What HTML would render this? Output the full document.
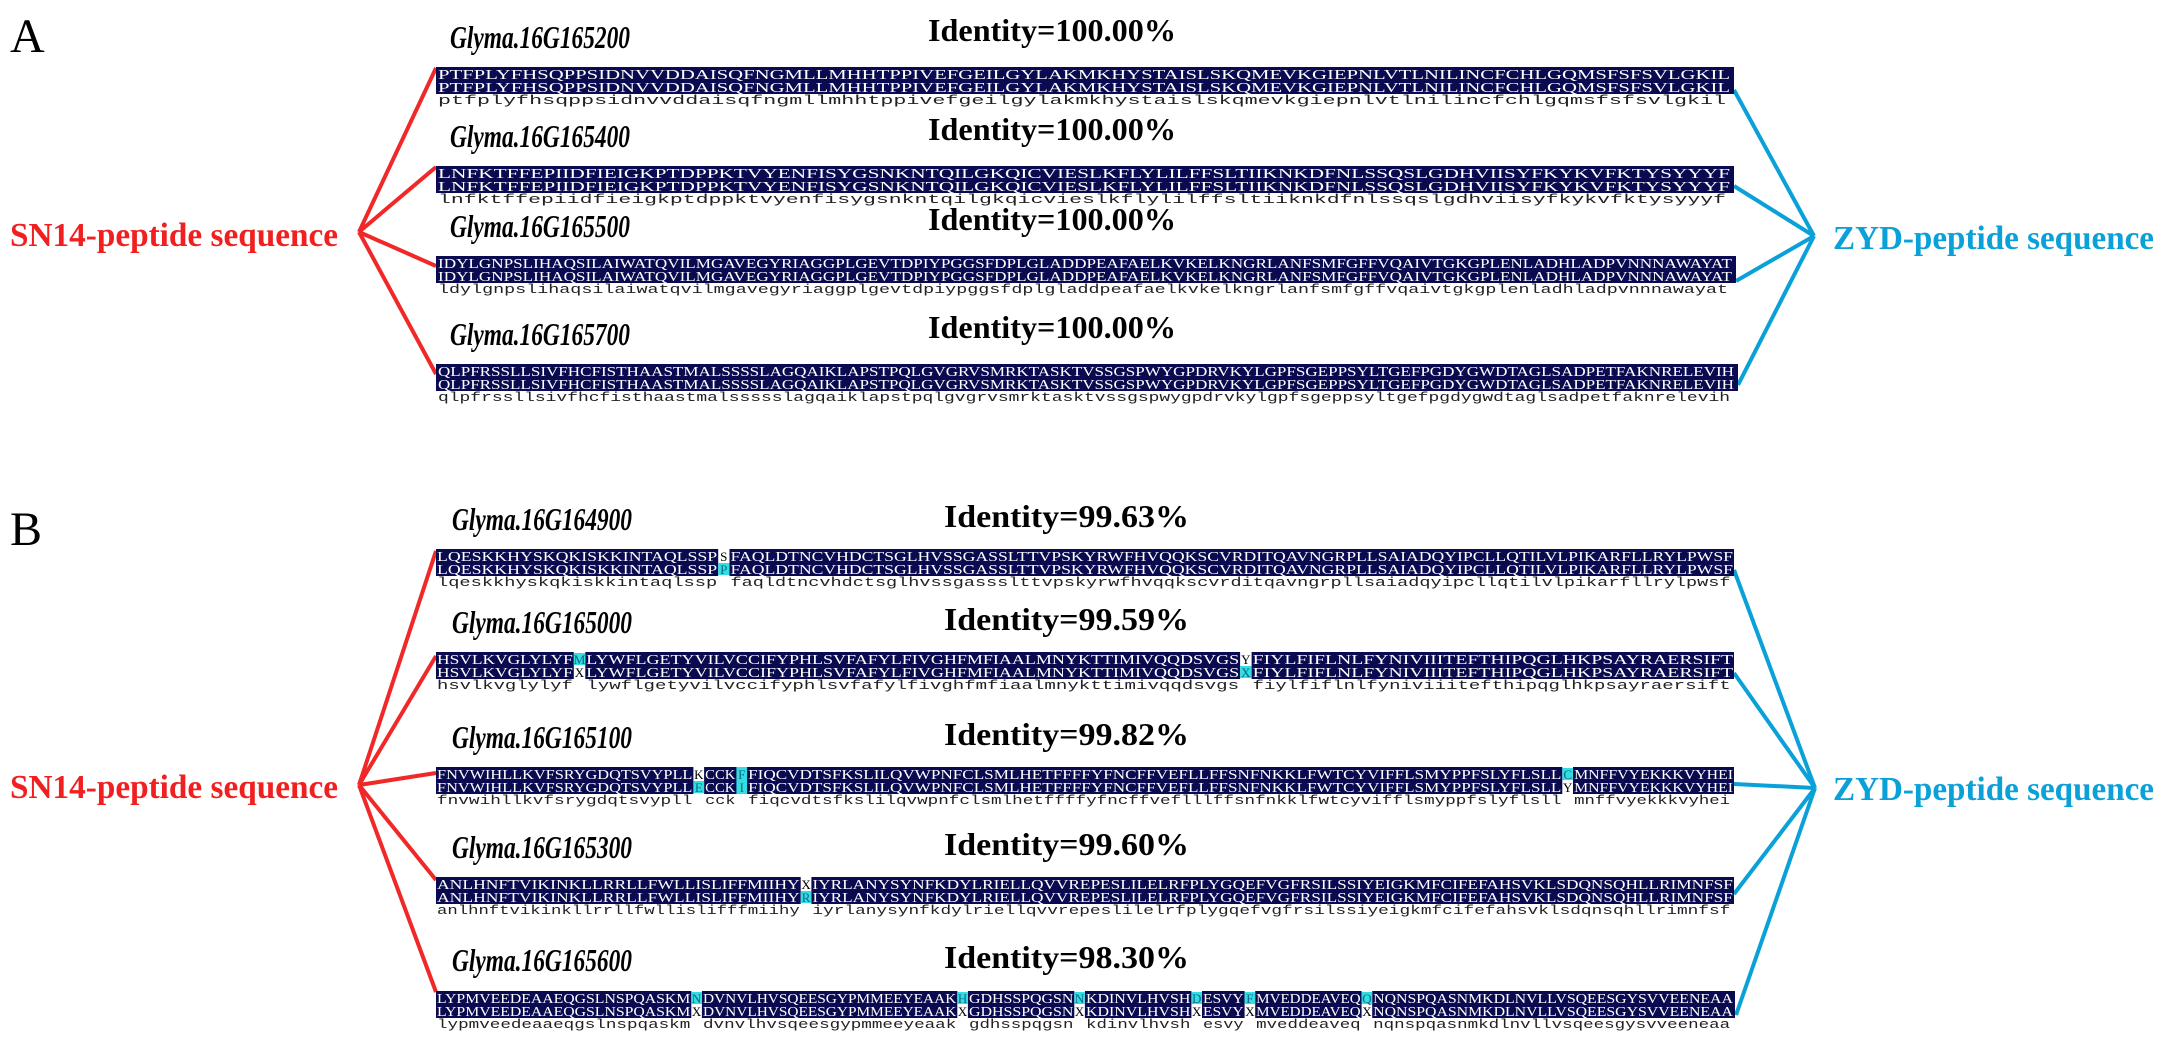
<!DOCTYPE html>
<html><head><meta charset="utf-8">
<style>
html,body{margin:0;padding:0;background:#fff;}
svg{display:block;}
.u{font-family:"Liberation Serif",serif;font-size:14px;fill:#fff;}
.l{font-family:"Liberation Mono","Liberation Serif",monospace;font-size:13px;fill:#222;}
.g{font-family:"Liberation Serif",serif;font-size:32px;font-weight:bold;font-style:italic;fill:#000;}
.id{font-family:"Liberation Serif",serif;font-size:32px;font-weight:bold;fill:#000;}
.m{font-family:"Liberation Serif",serif;font-size:13px;text-anchor:middle;}
</style></head>
<body>
<svg width="2166" height="1050" viewBox="0 0 2166 1050" xmlns="http://www.w3.org/2000/svg">
<rect width="2166" height="1050" fill="#fff"/>
<text x="10" y="52" font-family="Liberation Serif,serif" font-size="48">A</text>
<text x="10" y="545" font-family="Liberation Serif,serif" font-size="48">B</text>

<g stroke="#f02828" stroke-width="4" fill="none">
<line x1="359" y1="232" x2="436" y2="68"/>
<line x1="359" y1="232" x2="436" y2="167"/>
<line x1="359" y1="232" x2="436" y2="266"/>
<line x1="359" y1="232" x2="436" y2="374"/>
<line x1="359" y1="785" x2="436" y2="551"/>
<line x1="359" y1="785" x2="436" y2="656"/>
<line x1="359" y1="785" x2="436" y2="773"/>
<line x1="359" y1="785" x2="436" y2="880"/>
<line x1="359" y1="785" x2="436" y2="992"/>
</g>
<g stroke="#0aa0d8" stroke-width="4" fill="none">
<line x1="1814" y1="236" x2="1734" y2="90"/>
<line x1="1814" y1="236" x2="1734" y2="186"/>
<line x1="1814" y1="236" x2="1736" y2="281"/>
<line x1="1814" y1="236" x2="1738" y2="385"/>
<line x1="1815" y1="788" x2="1734" y2="570"/>
<line x1="1815" y1="788" x2="1734" y2="673"/>
<line x1="1815" y1="788" x2="1734" y2="784"/>
<line x1="1815" y1="788" x2="1734" y2="894"/>
<line x1="1815" y1="788" x2="1736" y2="1015"/>
</g>

<text x="10" y="246" font-family="Liberation Serif,serif" font-size="34" font-weight="bold" fill="#f02020" textLength="328" lengthAdjust="spacingAndGlyphs">SN14-peptide sequence</text>
<text x="10" y="798" font-family="Liberation Serif,serif" font-size="34" font-weight="bold" fill="#f02020" textLength="328" lengthAdjust="spacingAndGlyphs">SN14-peptide sequence</text>
<text x="1833" y="249" font-family="Liberation Serif,serif" font-size="34" font-weight="bold" fill="#0aa0d8" textLength="321" lengthAdjust="spacingAndGlyphs">ZYD-peptide sequence</text>
<text x="1833" y="800" font-family="Liberation Serif,serif" font-size="34" font-weight="bold" fill="#0aa0d8" textLength="321" lengthAdjust="spacingAndGlyphs">ZYD-peptide sequence</text>

<!-- A1 -->
<text class="g" x="450" y="48" textLength="180" lengthAdjust="spacingAndGlyphs">Glyma.16G165200</text>
<text class="id" x="928" y="41" textLength="248" lengthAdjust="spacingAndGlyphs">Identity=100.00%</text>
<rect x="436" y="67" width="1298" height="27" fill="#0a0a50"/>
<text class="u" x="438" y="79" textLength="1292" lengthAdjust="spacingAndGlyphs">PTFPLYFHSQPPSIDNVVDDAISQFNGMLLMHHTPPIVEFGEILGYLAKMKHYSTAISLSKQMEVKGIEPNLVTLNILINCFCHLGQMSFSFSVLGKIL</text>
<text class="u" x="438" y="92" textLength="1292" lengthAdjust="spacingAndGlyphs">PTFPLYFHSQPPSIDNVVDDAISQFNGMLLMHHTPPIVEFGEILGYLAKMKHYSTAISLSKQMEVKGIEPNLVTLNILINCFCHLGQMSFSFSVLGKIL</text>
<text class="l" x="438" y="104" textLength="1288" lengthAdjust="spacingAndGlyphs">ptfplyfhsqppsidnvvddaisqfngmllmhhtppivefgeilgylakmkhystaislskqmevkgiepnlvtlnilincfchlgqmsfsfsvlgkil</text>

<!-- A2 -->
<text class="g" x="450" y="147" textLength="180" lengthAdjust="spacingAndGlyphs">Glyma.16G165400</text>
<text class="id" x="928" y="140" textLength="248" lengthAdjust="spacingAndGlyphs">Identity=100.00%</text>
<rect x="436" y="166" width="1298" height="27" fill="#0a0a50"/>
<text class="u" x="438" y="178" textLength="1292" lengthAdjust="spacingAndGlyphs">LNFKTFFEPIIDFIEIGKPTDPPKTVYENFISYGSNKNTQILGKQICVIESLKFLYLILFFSLTIIKNKDFNLSSQSLGDHVIISYFKYKVFKTYSYYYF</text>
<text class="u" x="438" y="191" textLength="1292" lengthAdjust="spacingAndGlyphs">LNFKTFFEPIIDFIEIGKPTDPPKTVYENFISYGSNKNTQILGKQICVIESLKFLYLILFFSLTIIKNKDFNLSSQSLGDHVIISYFKYKVFKTYSYYYF</text>
<text class="l" x="438" y="203" textLength="1288" lengthAdjust="spacingAndGlyphs">lnfktffepiidfieigkptdppktvyenfisygsnkntqilgkqicvieslkflylilffsltiiknkdfnlssqslgdhviisyfkykvfktysyyyf</text>

<!-- A3 -->
<text class="g" x="450" y="237" textLength="180" lengthAdjust="spacingAndGlyphs">Glyma.16G165500</text>
<text class="id" x="928" y="230" textLength="248" lengthAdjust="spacingAndGlyphs">Identity=100.00%</text>
<rect x="436" y="256" width="1300" height="27" fill="#0a0a50"/>
<text class="u" x="438" y="268" textLength="1294" lengthAdjust="spacingAndGlyphs">IDYLGNPSLIHAQSILAIWATQVILMGAVEGYRIAGGPLGEVTDPIYPGGSFDPLGLADDPEAFAELKVKELKNGRLANFSMFGFFVQAIVTGKGPLENLADHLADPVNNNAWAYAT</text>
<text class="u" x="438" y="281" textLength="1294" lengthAdjust="spacingAndGlyphs">IDYLGNPSLIHAQSILAIWATQVILMGAVEGYRIAGGPLGEVTDPIYPGGSFDPLGLADDPEAFAELKVKELKNGRLANFSMFGFFVQAIVTGKGPLENLADHLADPVNNNAWAYAT</text>
<text class="l" x="438" y="293" textLength="1290" lengthAdjust="spacingAndGlyphs">ldylgnpslihaqsilaiwatqvilmgavegyriaggplgevtdpiypggsfdplgladdpeafaelkvkelkngrlanfsmfgffvqaivtgkgplenladhladpvnnnawayat</text>

<!-- A4 -->
<text class="g" x="450" y="345" textLength="180" lengthAdjust="spacingAndGlyphs">Glyma.16G165700</text>
<text class="id" x="928" y="338" textLength="248" lengthAdjust="spacingAndGlyphs">Identity=100.00%</text>
<rect x="436" y="364" width="1302" height="27" fill="#0a0a50"/>
<text class="u" x="438" y="376" textLength="1296" lengthAdjust="spacingAndGlyphs">QLPFRSSLLSIVFHCFISTHAASTMALSSSSLAGQAIKLAPSTPQLGVGRVSMRKTASKTVSSGSPWYGPDRVKYLGPFSGEPPSYLTGEFPGDYGWDTAGLSADPETFAKNRELEVIH</text>
<text class="u" x="438" y="389" textLength="1296" lengthAdjust="spacingAndGlyphs">QLPFRSSLLSIVFHCFISTHAASTMALSSSSLAGQAIKLAPSTPQLGVGRVSMRKTASKTVSSGSPWYGPDRVKYLGPFSGEPPSYLTGEFPGDYGWDTAGLSADPETFAKNRELEVIH</text>
<text class="l" x="438" y="401" textLength="1292" lengthAdjust="spacingAndGlyphs">qlpfrssllsivfhcfisthaastmalssssslagqaiklapstpqlgvgrvsmrktasktvssgspwygpdrvkylgpfsgeppsyltgefpgdygwdtaglsadpetfaknrelevih</text>

<!-- B1 -->
<text class="g" x="452" y="530" textLength="180" lengthAdjust="spacingAndGlyphs">Glyma.16G164900</text>
<text class="id" x="944" y="527" textLength="245" lengthAdjust="spacingAndGlyphs">Identity=99.63%</text>
<rect x="436" y="549" width="1298" height="27" fill="#0a0a50"/>
<rect x="718.2" y="549" width="11.3" height="27" fill="#fff"/>
<rect x="718.2" y="563" width="11.3" height="12" fill="#33dde0"/>
<text class="u" x="437" y="561" textLength="280.2" lengthAdjust="spacingAndGlyphs">LQESKKHYSKQKISKKINTAQLSSP</text>
<text class="u" x="437" y="574" textLength="280.2" lengthAdjust="spacingAndGlyphs">LQESKKHYSKQKISKKINTAQLSSP</text>
<text class="m" x="723.8" y="561" fill="#000">S</text>
<text class="m" x="723.8" y="574" fill="#0a6a8a">P</text>
<text class="u" x="730.5" y="561" textLength="1002.5" lengthAdjust="spacingAndGlyphs">FAQLDTNCVHDCTSGLHVSSGASSLTTVPSKYRWFHVQQKSCVRDITQAVNGRPLLSAIADQYIPCLLQTILVLPIKARFLLRYLPWSF</text>
<text class="u" x="730.5" y="574" textLength="1002.5" lengthAdjust="spacingAndGlyphs">FAQLDTNCVHDCTSGLHVSSGASSLTTVPSKYRWFHVQQKSCVRDITQAVNGRPLLSAIADQYIPCLLQTILVLPIKARFLLRYLPWSF</text>
<text class="l" x="437" y="586" textLength="280.2" lengthAdjust="spacingAndGlyphs">lqeskkhyskqkiskkintaqlssp</text>
<text class="l" x="730.5" y="586" textLength="1000" lengthAdjust="spacingAndGlyphs">faqldtncvhdctsglhvssgassslttvpskyrwfhvqqkscvrditqavngrpllsaiadqyipcllqtilvlpikarfllrylpwsf</text>

<!-- B2 -->
<text class="g" x="452" y="633" textLength="180" lengthAdjust="spacingAndGlyphs">Glyma.16G165000</text>
<text class="id" x="944" y="630" textLength="245" lengthAdjust="spacingAndGlyphs">Identity=99.59%</text>
<rect x="436" y="652" width="1298" height="27" fill="#0a0a50"/>
<rect x="573.8" y="652" width="11.5" height="27" fill="#fff"/>
<rect x="573.8" y="653" width="11.5" height="12" fill="#33dde0"/>
<rect x="1240.1" y="652" width="11.5" height="27" fill="#fff"/>
<rect x="1240.1" y="666" width="11.5" height="12" fill="#33dde0"/>
<text class="u" x="437" y="664" textLength="135.8" lengthAdjust="spacingAndGlyphs">HSVLKVGLYLYF</text>
<text class="u" x="437" y="677" textLength="135.8" lengthAdjust="spacingAndGlyphs">HSVLKVGLYLYF</text>
<text class="m" x="579.5" y="664" fill="#0a6a8a">M</text>
<text class="m" x="579.5" y="677" fill="#000">X</text>
<text class="u" x="586.3" y="664" textLength="652.8" lengthAdjust="spacingAndGlyphs">LYWFLGETYVILVCCIFYPHLSVFAFYLFIVGHFMFIAALMNYKTTIMIVQQDSVGS</text>
<text class="u" x="586.3" y="677" textLength="652.8" lengthAdjust="spacingAndGlyphs">LYWFLGETYVILVCCIFYPHLSVFAFYLFIVGHFMFIAALMNYKTTIMIVQQDSVGS</text>
<text class="m" x="1245.8" y="664" fill="#000">Y</text>
<text class="m" x="1245.8" y="677" fill="#0a6a8a">X</text>
<text class="u" x="1252.6" y="664" textLength="480.5" lengthAdjust="spacingAndGlyphs">FIYLFIFLNLFYNIVIIITEFTHIPQGLHKPSAYRAERSIFT</text>
<text class="u" x="1252.6" y="677" textLength="480.5" lengthAdjust="spacingAndGlyphs">FIYLFIFLNLFYNIVIIITEFTHIPQGLHKPSAYRAERSIFT</text>
<text class="l" x="437" y="689" textLength="135.8" lengthAdjust="spacingAndGlyphs">hsvlkvglylyf</text>
<text class="l" x="586.3" y="689" textLength="652.8" lengthAdjust="spacingAndGlyphs">lywflgetyvilvccifyphlsvfafylfivghfmfiaalmnykttimivqqdsvgs</text>
<text class="l" x="1252.6" y="689" textLength="478" lengthAdjust="spacingAndGlyphs">fiylfiflnlfyniviiitefthipqglhkpsayraersift</text>

<!-- B3 -->
<text class="g" x="452" y="748" textLength="180" lengthAdjust="spacingAndGlyphs">Glyma.16G165100</text>
<text class="id" x="944" y="745" textLength="245" lengthAdjust="spacingAndGlyphs">Identity=99.82%</text>
<rect x="436" y="767" width="1298" height="27" fill="#0a0a50"/>
<rect x="693.4" y="767" width="10.7" height="27" fill="#fff"/>
<rect x="693.4" y="781" width="10.7" height="12" fill="#33dde0"/>
<rect x="736.4" y="767" width="10.7" height="27" fill="#33dde0"/>
<rect x="1562.3" y="767" width="10.7" height="27" fill="#fff"/>
<rect x="1562.3" y="768" width="10.7" height="12" fill="#33dde0"/>
<text class="u" x="437" y="779" textLength="255.4" lengthAdjust="spacingAndGlyphs">FNVWIHLLKVFSRYGDQTSVYPLL</text>
<text class="u" x="437" y="792" textLength="255.4" lengthAdjust="spacingAndGlyphs">FNVWIHLLKVFSRYGDQTSVYPLL</text>
<text class="m" x="698.8" y="779" fill="#000">K</text>
<text class="m" x="698.8" y="792" fill="#0a6a8a">E</text>
<text class="u" x="705.2" y="779" textLength="30.2" lengthAdjust="spacingAndGlyphs">CCK</text>
<text class="u" x="705.2" y="792" textLength="30.2" lengthAdjust="spacingAndGlyphs">CCK</text>
<text class="m" x="741.8" y="779" fill="#0a6a8a">F</text>
<text class="m" x="741.8" y="792" fill="#0a6a8a">I</text>
<text class="u" x="748.1" y="779" textLength="813.3" lengthAdjust="spacingAndGlyphs">FIQCVDTSFKSLILQVWPNFCLSMLHETFFFFYFNCFFVEFLLFFSNFNKKLFWTCYVIFFLSMYPPFSLYFLSLL</text>
<text class="u" x="748.1" y="792" textLength="813.3" lengthAdjust="spacingAndGlyphs">FIQCVDTSFKSLILQVWPNFCLSMLHETFFFFYFNCFFVEFLLFFSNFNKKLFWTCYVIFFLSMYPPFSLYFLSLL</text>
<text class="m" x="1567.7" y="779" fill="#0a6a8a">C</text>
<text class="m" x="1567.7" y="792" fill="#000">Y</text>
<text class="u" x="1574.1" y="779" textLength="158.9" lengthAdjust="spacingAndGlyphs">MNFFVYEKKKVYHEI</text>
<text class="u" x="1574.1" y="792" textLength="158.9" lengthAdjust="spacingAndGlyphs">MNFFVYEKKKVYHEI</text>
<text class="l" x="437" y="804" textLength="255.4" lengthAdjust="spacingAndGlyphs">fnvwihllkvfsrygdqtsvypll</text>
<text class="l" x="705.2" y="804" textLength="30.2" lengthAdjust="spacingAndGlyphs">cck</text>
<text class="l" x="748.1" y="804" textLength="813.3" lengthAdjust="spacingAndGlyphs">fiqcvdtsfkslilqvwpnfclsmlhetffffyfncffveflllffsnfnkklfwtcyvifflsmyppfslyflsll</text>
<text class="l" x="1574.1" y="804" textLength="156" lengthAdjust="spacingAndGlyphs">mnffvyekkkvyhei</text>

<!-- B4 -->
<text class="g" x="452" y="858" textLength="180" lengthAdjust="spacingAndGlyphs">Glyma.16G165300</text>
<text class="id" x="944" y="855" textLength="245" lengthAdjust="spacingAndGlyphs">Identity=99.60%</text>
<rect x="436" y="877" width="1298" height="27" fill="#0a0a50"/>
<rect x="800.7" y="877" width="10.7" height="27" fill="#fff"/>
<rect x="800.7" y="891" width="10.7" height="12" fill="#33dde0"/>
<text class="u" x="437" y="889" textLength="362.7" lengthAdjust="spacingAndGlyphs">ANLHNFTVIKINKLLRRLLFWLLISLIFFMIIHY</text>
<text class="u" x="437" y="902" textLength="362.7" lengthAdjust="spacingAndGlyphs">ANLHNFTVIKINKLLRRLLFWLLISLIFFMIIHY</text>
<text class="m" x="806.1" y="889" fill="#000">X</text>
<text class="m" x="806.1" y="902" fill="#0a6a8a">R</text>
<text class="u" x="812.4" y="889" textLength="920.5" lengthAdjust="spacingAndGlyphs">IYRLANYSYNFKDYLRIELLQVVREPESLILELRFPLYGQEFVGFRSILSSIYEIGKMFCIFEFAHSVKLSDQNSQHLLRIMNFSF</text>
<text class="u" x="812.4" y="902" textLength="920.5" lengthAdjust="spacingAndGlyphs">IYRLANYSYNFKDYLRIELLQVVREPESLILELRFPLYGQEFVGFRSILSSIYEIGKMFCIFEFAHSVKLSDQNSQHLLRIMNFSF</text>
<text class="l" x="437" y="914" textLength="362.7" lengthAdjust="spacingAndGlyphs">anlhnftvikinkllrrllfwllislifffmiihy</text>
<text class="l" x="812.4" y="914" textLength="918" lengthAdjust="spacingAndGlyphs">iyrlanysynfkdylriellqvvrepeslilelrfplygqefvgfrsilssiyeigkmfcifefahsvklsdqnsqhllrimnfsf</text>

<!-- B5 -->
<text class="g" x="452" y="971" textLength="180" lengthAdjust="spacingAndGlyphs">Glyma.16G165600</text>
<text class="id" x="944" y="968" textLength="245" lengthAdjust="spacingAndGlyphs">Identity=98.30%</text>
<rect x="436" y="991" width="1299" height="27" fill="#0a0a50"/>
<g fill="#fff">
<rect x="691.3" y="991" width="10.6" height="27"/>
<rect x="957.3" y="991" width="10.6" height="27"/>
<rect x="1074.3" y="991" width="10.6" height="27"/>
<rect x="1191.4" y="991" width="10.6" height="27"/>
<rect x="1244.6" y="991" width="10.6" height="27"/>
<rect x="1361.6" y="991" width="10.6" height="27"/>
</g>
<g fill="#33dde0">
<rect x="691.3" y="992" width="10.6" height="12"/>
<rect x="957.3" y="992" width="10.6" height="12"/>
<rect x="1074.3" y="992" width="10.6" height="12"/>
<rect x="1191.4" y="992" width="10.6" height="12"/>
<rect x="1244.6" y="992" width="10.6" height="12"/>
<rect x="1361.6" y="992" width="10.6" height="12"/>
</g>
<g class="m" fill="#0a6a8a">
<text x="696.6" y="1003">N</text>
<text x="962.6" y="1003">H</text>
<text x="1079.6" y="1003">N</text>
<text x="1196.7" y="1003">D</text>
<text x="1249.9" y="1003">F</text>
<text x="1366.9" y="1003">Q</text>
</g>
<g class="m" fill="#000">
<text x="696.6" y="1016">X</text>
<text x="962.6" y="1016">X</text>
<text x="1079.6" y="1016">X</text>
<text x="1196.7" y="1016">X</text>
<text x="1249.9" y="1016">X</text>
<text x="1366.9" y="1016">X</text>
</g>
<text class="u" x="437" y="1003" textLength="253.3" lengthAdjust="spacingAndGlyphs">LYPMVEEDEAAEQGSLNSPQASKM</text>
<text class="u" x="437" y="1016" textLength="253.3" lengthAdjust="spacingAndGlyphs">LYPMVEEDEAAEQGSLNSPQASKM</text>
<text class="u" x="703" y="1003" textLength="253.3" lengthAdjust="spacingAndGlyphs">DVNVLHVSQEESGYPMMEEYEAAK</text>
<text class="u" x="703" y="1016" textLength="253.3" lengthAdjust="spacingAndGlyphs">DVNVLHVSQEESGYPMMEEYEAAK</text>
<text class="u" x="969" y="1003" textLength="104.4" lengthAdjust="spacingAndGlyphs">GDHSSPQGSN</text>
<text class="u" x="969" y="1016" textLength="104.4" lengthAdjust="spacingAndGlyphs">GDHSSPQGSN</text>
<text class="u" x="1086" y="1003" textLength="104.4" lengthAdjust="spacingAndGlyphs">KDINVLHVSH</text>
<text class="u" x="1086" y="1016" textLength="104.4" lengthAdjust="spacingAndGlyphs">KDINVLHVSH</text>
<text class="u" x="1203" y="1003" textLength="40.6" lengthAdjust="spacingAndGlyphs">ESVY</text>
<text class="u" x="1203" y="1016" textLength="40.6" lengthAdjust="spacingAndGlyphs">ESVY</text>
<text class="u" x="1256.2" y="1003" textLength="104.4" lengthAdjust="spacingAndGlyphs">MVEDDEAVEQ</text>
<text class="u" x="1256.2" y="1016" textLength="104.4" lengthAdjust="spacingAndGlyphs">MVEDDEAVEQ</text>
<text class="u" x="1373.2" y="1003" textLength="359.7" lengthAdjust="spacingAndGlyphs">NQNSPQASNMKDLNVLLVSQEESGYSVVEENEAA</text>
<text class="u" x="1373.2" y="1016" textLength="359.7" lengthAdjust="spacingAndGlyphs">NQNSPQASNMKDLNVLLVSQEESGYSVVEENEAA</text>
<text class="l" x="437" y="1028" textLength="253.3" lengthAdjust="spacingAndGlyphs">lypmveedeaaeqgslnspqaskm</text>
<text class="l" x="703" y="1028" textLength="253.3" lengthAdjust="spacingAndGlyphs">dvnvlhvsqeesgypmmeeyeaak</text>
<text class="l" x="969" y="1028" textLength="104.4" lengthAdjust="spacingAndGlyphs">gdhsspqgsn</text>
<text class="l" x="1086" y="1028" textLength="104.4" lengthAdjust="spacingAndGlyphs">kdinvlhvsh</text>
<text class="l" x="1203" y="1028" textLength="40.6" lengthAdjust="spacingAndGlyphs">esvy</text>
<text class="l" x="1256.2" y="1028" textLength="104.4" lengthAdjust="spacingAndGlyphs">mveddeaveq</text>
<text class="l" x="1373.2" y="1028" textLength="357" lengthAdjust="spacingAndGlyphs">nqnspqasnmkdlnvllvsqeesgysvveeneaa</text>
</svg>
</body></html>
